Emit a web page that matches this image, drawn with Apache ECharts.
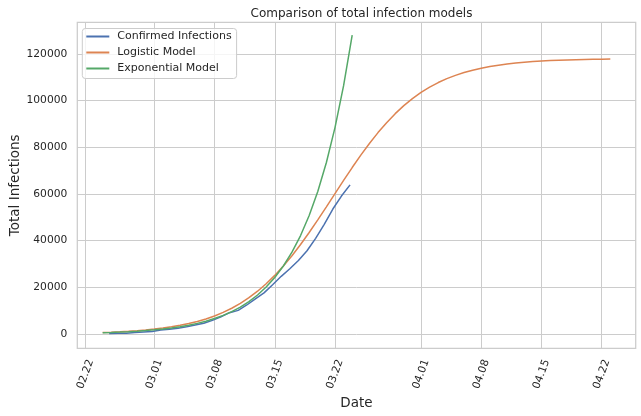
<!DOCTYPE html>
<html>
<head>
<meta charset="utf-8">
<script src="https://cdn.jsdelivr.net/npm/echarts@6/dist/echarts.min.js"></script>
<style>html,body{margin:0;padding:0;background:#fff}#c{width:641px;height:416px}</style>
</head>
<body>
<div id="c"></div>
<script>
// ---- data ----
const tickDays = [0, 8, 15, 22, 29, 39, 46, 53, 60];
const tickLabels = ['02.22', '03.01', '03.08', '03.15', '03.22', '04.01', '04.08', '04.15', '04.22'];
const yTicks = [0, 20000, 40000, 60000, 80000, 100000, 120000];

const confirmedDates = ['02-24','02-25','02-26','02-27','02-28','02-29','03-01','03-02','03-03','03-04',
  '03-05','03-06','03-07','03-08','03-09','03-10','03-11','03-12','03-13','03-14','03-15','03-16',
  '03-17','03-18','03-19','03-20','03-21','03-22','03-23'];
const confirmedValues = [229,322,400,650,888,1128,1694,2036,2502,3089,3858,4636,5883,7375,9172,10149,
  12462,15113,17660,21157,24747,27980,31506,35713,41035,47021,53578,59138,63927];

const modelDates = ['02-24','02-25','02-26','02-27','02-28','02-29',
  '03-01','03-02','03-03','03-04','03-05','03-06','03-07','03-08','03-09','03-10','03-11','03-12',
  '03-13','03-14','03-15','03-16','03-17','03-18','03-19','03-20','03-21','03-22','03-23','03-24',
  '03-25','03-26','03-27','03-28','03-29','03-30','03-31',
  '04-01','04-02','04-03','04-04','04-05','04-06','04-07','04-08','04-09','04-10','04-11','04-12',
  '04-13','04-14','04-15','04-16','04-17','04-18','04-19','04-20','04-21','04-22','04-23'];
const logisticValues = [679,822,995,1204,1455,1759,2126,2567,3096,3732,4493,5402,6484,7769,9287,11070,
  13156,15578,18367,21550,25145,29160,33584,38389,43530,48933,54517,60185,65833,71356,76664,81677,
  86334,90597,94444,97873,100895,103533,105816,107778,109450,110870,112070,113081,113929,114636,
  115227,115720,116129,116469,116751,116985,117178,117338,117471,117580,117671,117746,117808,117859];
const exponentialValues = [599,721,868,1044,1256,1511,1818,2188,2632,3167,3811,4585,5520,6640,7990,
  9610,11560,13910,16740,20140,24240,29160,35090,42220,50800,61120,73540,88480,106460,128100];

// ---- helpers ----
const origin = Date.parse('2020-02-22T00:00:00Z');
function dayOf(md, time) {
  return (Date.parse('2020-' + md + 'T' + (time || '00:00') + ':00Z') - origin) / 864e5;
}
function pairs(dates, values, time) {
  return values.map((v, i) => [dayOf(dates[i], time), v]);
}

const FONT = 'DejaVu Sans';
const TXT = '#262626';
const chart = echarts.init(document.getElementById('c'), null, { renderer: 'canvas' });
chart.setOption({
  animation: false,
  backgroundColor: '#ffffff',
  textStyle: { fontFamily: FONT },
  title: {
    text: 'Comparison of total infection models',
    left: 356.5, top: 3, textAlign: 'center',
    textStyle: { fontFamily: FONT, fontSize: 12, fontWeight: 'normal', color: TXT }
  },
  legend: {
    orient: 'vertical', left: 82.3, top: 28.5,
    icon: 'rect', itemWidth: 23, itemHeight: 2, itemGap: 2,
    padding: [1, 5, 3, 4],
    backgroundColor: 'rgba(255,255,255,0.8)', borderColor: '#cccccc', borderWidth: 1, borderRadius: 3,
    textStyle: { fontFamily: FONT, fontSize: 11, color: TXT, lineHeight: 14, padding: [0, 0, 0, 3] },
    data: ['Confirmed Infections', 'Logistic Model', 'Exponential Model']
  },
  grid: {
    left: 77.3, right: 5.3, top: 22.3, bottom: 67.7,
    show: true, borderColor: '#cccccc', borderWidth: 1.25,
    outerBoundsMode: 'none'
  },
  xAxis: {
    type: 'value', min: -0.95, max: 63.95,
    name: 'Date', nameLocation: 'middle', nameGap: 48, nameMoveOverlap: false,
    nameTextStyle: { fontFamily: FONT, fontSize: 13.5, color: TXT },
    axisLine: { show: false },
    axisTick: { show: false, customValues: tickDays },
    axisLabel: {
      customValues: tickDays,
      formatter: v => tickLabels[tickDays.indexOf(Math.round(v))] || '',
      rotate: 70, align: 'center', verticalAlign: 'middle', margin: 26,
      fontFamily: FONT, fontSize: 10.7, color: TXT
    },
    splitLine: { show: true, lineStyle: { color: '#cccccc', width: 1 } }
  },
  yAxis: {
    type: 'value', min: -6100, max: 133600,
    name: 'Total Infections', nameLocation: 'middle', nameGap: 55, nameMoveOverlap: false,
    nameTextStyle: { fontFamily: FONT, fontSize: 13.5, color: TXT },
    axisLine: { show: false },
    axisTick: { show: false, customValues: yTicks },
    axisLabel: { customValues: yTicks, margin: 10, formatter: v => String(v),
      fontFamily: FONT, fontSize: 10.7, color: TXT },
    splitLine: { show: true, lineStyle: { color: '#cccccc', width: 1 } }
  },
  series: [
    { name: 'Confirmed Infections', type: 'line', showSymbol: false, symbol: 'none',
      color: '#4c72b0', lineStyle: { width: 1.5, color: '#4c72b0' },
      data: pairs(confirmedDates, confirmedValues, '18:00') },
    { name: 'Logistic Model', type: 'line', showSymbol: false, symbol: 'none',
      color: '#dd8452', lineStyle: { width: 1.5, color: '#dd8452' },
      data: pairs(modelDates, logisticValues) },
    { name: 'Exponential Model', type: 'line', showSymbol: false, symbol: 'none',
      color: '#55a868', lineStyle: { width: 1.5, color: '#55a868' },
      data: pairs(modelDates, exponentialValues) }
  ]
});
</script>
</body>
</html>
